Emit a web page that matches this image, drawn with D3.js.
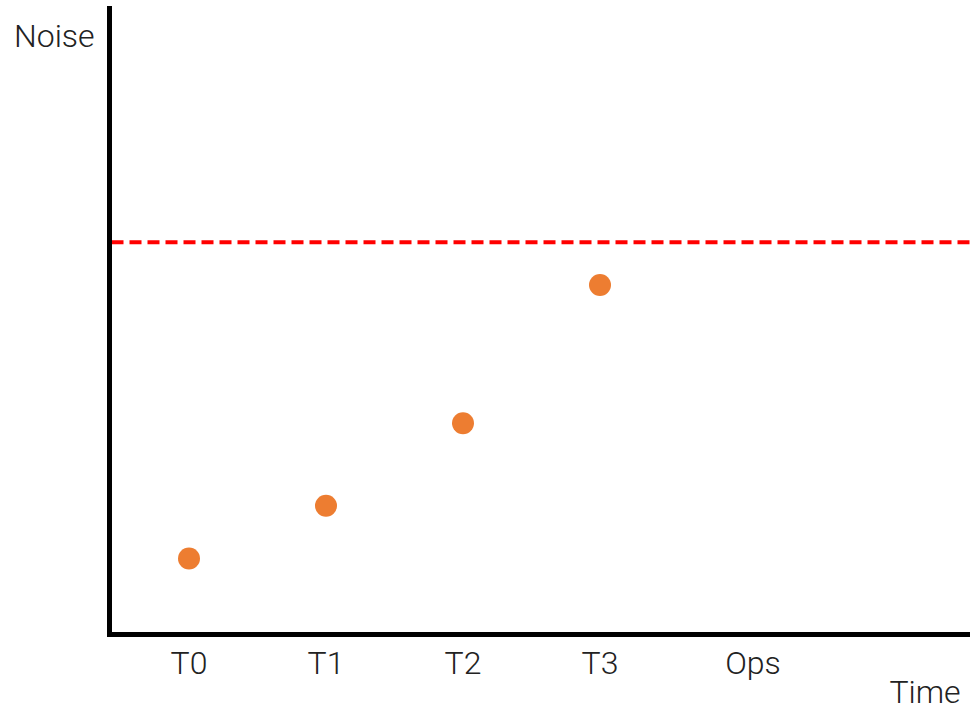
<!DOCTYPE html>
<html>
<head>
<meta charset="utf-8">
<script src="https://cdn.jsdelivr.net/npm/d3@7"></script>
<style>
  body { margin: 0; background: #fff; }
  text { font-family: Roboto, sans-serif; font-weight: 300; fill: #222; }
</style>
</head>
<body>
<svg width="970" height="709"></svg>
<script>
let svg = d3.select("svg"),
    width = +svg.attr("width"),
    height = +svg.attr("height");

// data
let categories = ["T0", "T1", "T2", "T3", "Ops"];
let noise = [
    {'stage': 'T0', 'value': 12.1},
    {'stage': 'T1', 'value': 20.5},
    {'stage': 'T2', 'value': 33.6},
    {'stage': 'T3', 'value': 55.6}
];
let threshold = 62.4;

// plot area
let plotLeft = 109.5, plotBottom = 634.5, plotTop = 6;

let x = d3.scalePoint()
    .domain(categories)
    .range([189, 737]);

let y = d3.scaleLinear()
    .domain([0, 100])
    .range([plotBottom, plotTop]);

// threshold line
svg.append("line")
    .attr("x1", plotLeft + 2)
    .attr("x2", width)
    .attr("y1", y(threshold))
    .attr("y2", y(threshold))
    .attr("stroke", "#ff0000")
    .attr("stroke-width", 4)
    .attr("stroke-dasharray", "12,6");

// points
svg.append("g")
    .selectAll("circle")
    .data(noise)
    .enter()
    .append("circle")
    .attr("cx", function(d) { return x(d.stage); })
    .attr("cy", function(d) { return y(d.value); })
    .attr("r", 11)
    .attr("fill", "#ed7d31");

// axes, just the two black lines
svg.append("line")
    .attr("x1", plotLeft).attr("x2", plotLeft)
    .attr("y1", y(100)).attr("y2", plotBottom + 2.5)
    .attr("stroke", "#000").attr("stroke-width", 5);

svg.append("line")
    .attr("x1", plotLeft - 2.5).attr("x2", width)
    .attr("y1", plotBottom).attr("y2", plotBottom)
    .attr("stroke", "#000").attr("stroke-width", 5);

// category labels
svg.append("g")
    .selectAll("text")
    .data(categories)
    .enter()
    .append("text")
    .attr("x", function(d) { return x(d) + (d === "Ops" ? 16 : 0); })
    .attr("y", 674)
    .attr("text-anchor", "middle")
    .attr("font-size", 32)
    .text(function(d) { return d; });

// axis titles
svg.append("text")
    .attr("x", 14).attr("y", 47)
    .attr("font-size", 32)
    .text("Noise");

svg.append("text")
    .attr("x", 925).attr("y", 703)
    .attr("text-anchor", "middle")
    .attr("font-size", 32)
    .text("Time");
</script>
</body>
</html>
